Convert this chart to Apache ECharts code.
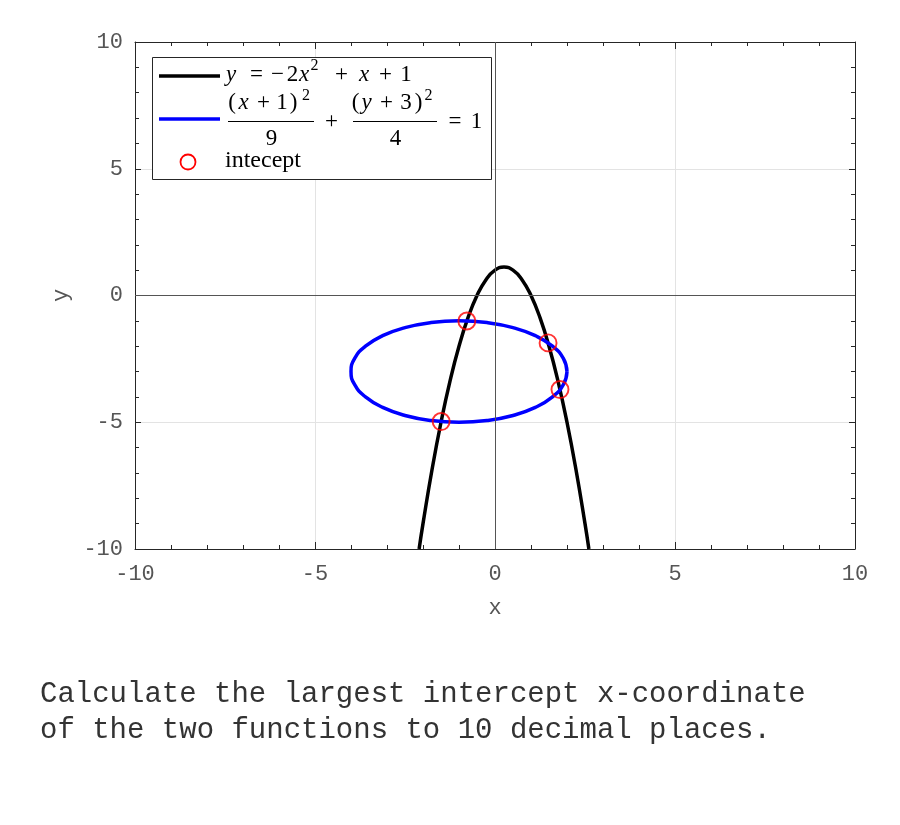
<!DOCTYPE html>
<html>
<head>
<meta charset="utf-8">
<script src="https://cdn.jsdelivr.net/npm/echarts@6/dist/echarts.min.js"></script>
<style>html,body{margin:0;padding:0;background:#fff;}#c{width:900px;height:825px;}</style>
</head>
<body>
<div id="c"></div>
<script>
// ---- data ----
var axisMin = -10, axisMax = 10, majorStep = 5;
var parabolaX = [-2.108, -2.0, -1.75, -1.5, -1.25, -1.0, -0.75, -0.5, -0.25, 0, 0.25, 0.5, 0.75, 1.0, 1.25, 1.5, 1.75, 2.0, 2.25, 2.5, 2.608];
var parabolaY = [-10, -9, -6.875, -5, -3.375, -2, -0.875, 0, 0.625, 1, 1.125, 1, 0.625, 0, -0.875, -2, -3.375, -5, -6.875, -9, -10];
var ellipseX = [2, 1.898, 1.598, 1.121, 0.5, -0.224, -1, -1.776, -2.5, -3.121, -3.598, -3.898, -4, -3.898, -3.598, -3.121, -2.5, -1.776, -1, -0.224, 0.5, 1.121, 1.598, 1.898, 2];
var ellipseY = [-3, -2.482, -2, -1.586, -1.268, -1.068, -1, -1.068, -1.268, -1.586, -2, -2.482, -3, -3.518, -4, -4.414, -4.732, -4.932, -5, -4.932, -4.732, -4.414, -4, -3.518, -3];
var interceptX = [-0.782, 1.474, 1.805, -1.496];
var interceptY = [-1.006, -1.870, -3.710, -4.972];
var questionLines = ['Calculate the largest intercept x-coordinate', 'of the two functions to 10 decimal places.'];
var legendNames = ['y = −2x² + x + 1', '(x + 1)²/9 + (y + 3)²/4 = 1', 'intecept'];

function zip(a, b) { return a.map(function (v, i) { return [v, b[i]]; }); }

var chart = echarts.init(document.getElementById('c'));
var mono = 'Liberation Mono';
var serif = 'Liberation Serif';
var tickCol = '#262626';
var labelCol = '#555';

function axisBase(pos, showLabel, majorLen, extra) {
  var o = {
    type: 'value', position: pos, min: axisMin, max: axisMax, interval: majorStep,
    axisLine: { show: true, onZero: false, lineStyle: { color: tickCol, width: 1 } },
    axisTick: { show: true, inside: true, length: majorLen, lineStyle: { color: tickCol } },
    minorTick: { show: true, splitNumber: 5, length: 4, lineStyle: { color: tickCol } },
    splitLine: { show: showLabel, lineStyle: { color: '#e3e3e3', width: 1 } },
    minorSplitLine: { show: false },
    axisLabel: { show: showLabel, color: labelCol, fontFamily: mono, fontSize: 22 }
  };
  for (var k in extra) o[k] = extra[k];
  return o;
}

// legend glyph layout: [text, centerX, centerY, italic, fontSize]
var FS = 23, SUP = 16;
var legendGlyphs = [
  ['y', 231, 75, true, FS], ['=', 256.5, 75, false, FS], ['−', 277.5, 75, false, FS], ['2', 292.5, 75, false, FS],
  ['x', 304, 75, true, FS], ['2', 314.5, 66, false, SUP], ['+', 341.5, 75, false, FS], ['x', 364, 75, true, FS],
  ['+', 385.5, 75, false, FS], ['1', 406, 75, false, FS],
  ['(', 232, 103, false, FS], ['x', 243.5, 103, true, FS], ['+', 263.5, 103, false, FS], ['1', 282, 103, false, FS],
  [')', 293.5, 103, false, FS], ['2', 306, 96, false, SUP],
  ['9', 271.5, 139, false, FS], ['+', 331.5, 121.5, false, FS],
  ['(', 355.5, 103, false, FS], ['y', 366.5, 103, true, FS], ['+', 386.5, 103, false, FS], ['3', 406, 103, false, FS],
  [')', 418.5, 103, false, FS], ['2', 428.5, 96, false, SUP],
  ['4', 395.5, 139, false, FS], ['=', 455, 121.5, false, FS], ['1', 476.5, 121.5, false, FS]
];

var graphics = [
  { type: 'rect', shape: { x: 152.5, y: 57.5, width: 339, height: 122 }, style: { fill: '#fff', stroke: '#262626', lineWidth: 1 }, z: 100 },
  { type: 'line', shape: { x1: 159, y1: 76, x2: 220, y2: 76 }, style: { stroke: '#000', lineWidth: 3.5 }, z: 101 },
  { type: 'line', shape: { x1: 159, y1: 119, x2: 220, y2: 119 }, style: { stroke: '#0000ff', lineWidth: 3.5 }, z: 101 },
  { type: 'circle', shape: { cx: 188, cy: 162, r: 7.5 }, style: { fill: 'none', stroke: '#ff0000', lineWidth: 1.8 }, z: 101 },
  { type: 'line', shape: { x1: 228, y1: 121.5, x2: 314, y2: 121.5 }, style: { stroke: '#000', lineWidth: 1.2 }, z: 101 },
  { type: 'line', shape: { x1: 353, y1: 121.5, x2: 437, y2: 121.5 }, style: { stroke: '#000', lineWidth: 1.2 }, z: 101 },
  { type: 'text', x: 225, y: 161, z: 101, style: { text: legendNames[2], fontFamily: serif, fontSize: 24, fill: '#000', verticalAlign: 'middle', align: 'left' } },
  { type: 'text', x: 40, y: 694, z: 101, style: { text: questionLines[0], fontFamily: mono, fontSize: 29, fill: '#333', verticalAlign: 'middle', align: 'left' } },
  { type: 'text', x: 40, y: 730, z: 101, style: { text: questionLines[1], fontFamily: mono, fontSize: 29, fill: '#333', verticalAlign: 'middle', align: 'left' } }
];
legendGlyphs.forEach(function (g) {
  graphics.push({
    type: 'text', x: g[1], y: g[2], z: 101,
    style: { text: g[0], fontFamily: serif, fontStyle: g[3] ? 'italic' : 'normal', fontSize: g[4], fill: '#000', align: 'center', verticalAlign: 'middle' }
  });
});

var option = {
  animation: false,
  backgroundColor: '#fff',
  grid: { left: 135, right: 45, top: 42, bottom: 276, containLabel: false },
  xAxis: [
    axisBase('bottom', true, 7, {
      name: 'x', nameLocation: 'middle', nameGap: 48,
      nameTextStyle: { fontFamily: mono, fontSize: 22, color: labelCol },
      axisLabel: { show: true, color: labelCol, fontFamily: mono, fontSize: 22, margin: 14 }
    }),
    axisBase('top', false, 7, {})
  ],
  yAxis: [
    axisBase('left', true, 6, {
      name: 'y', nameLocation: 'middle', nameGap: 62,
      nameTextStyle: { fontFamily: mono, fontSize: 22, color: labelCol },
      axisLabel: { show: true, color: labelCol, fontFamily: mono, fontSize: 22, margin: 12 }
    }),
    axisBase('right', false, 6, {})
  ],
  series: [
    {
      name: legendNames[0], type: 'line', xAxisIndex: 0, yAxisIndex: 0,
      data: zip(parabolaX, parabolaY), smooth: 0.5, symbol: 'none', z: 3,
      lineStyle: { color: '#000', width: 3.5 },
      markLine: {
        silent: true, symbol: ['none', 'none'], label: { show: false },
        lineStyle: { color: '#555', width: 1, type: 'solid' },
        data: [{ xAxis: 0 }, { yAxis: 0 }]
      }
    },
    {
      name: legendNames[1], type: 'line', xAxisIndex: 0, yAxisIndex: 0,
      data: zip(ellipseX, ellipseY), smooth: 0.5, symbol: 'none', z: 4,
      lineStyle: { color: '#0000ff', width: 3.5 }
    },
    {
      name: legendNames[2], type: 'scatter', xAxisIndex: 0, yAxisIndex: 0,
      data: zip(interceptX, interceptY), symbol: 'circle', symbolSize: 17, z: 5,
      itemStyle: { color: 'rgba(0,0,0,0)', borderColor: '#ff0000', borderWidth: 1.9 }
    }
  ],
  graphic: graphics
};
chart.setOption(option);
</script>
</body>
</html>
